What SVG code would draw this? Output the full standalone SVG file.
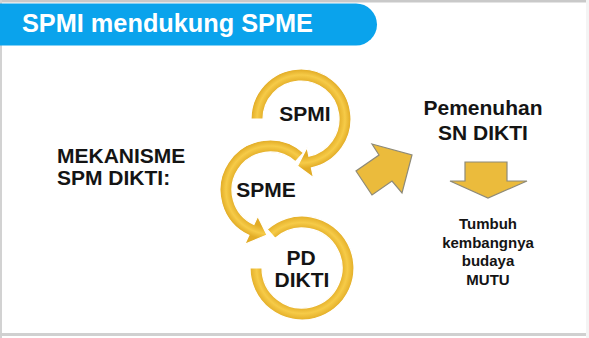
<svg xmlns="http://www.w3.org/2000/svg" width="589" height="338" viewBox="0 0 589 338">
  <style>
    .t { font-family: "Liberation Sans", Arial, sans-serif; font-weight: bold; fill: #141414; }
    .ring { stroke: #ffffff; stroke-width: 1.2; }
    .blk { fill: #EBBB3C; stroke: #8E8A78; stroke-width: 1.2; stroke-linejoin: miter; }
  </style>
  <defs>
    <radialGradient id="gSPMI" gradientUnits="userSpaceOnUse" cx="301" cy="119" r="62">
      <stop offset="0.6" stop-color="#E2AC26"/>
      <stop offset="0.71" stop-color="#F6CB48"/>
      <stop offset="0.8" stop-color="#E2AC26"/>
    </radialGradient>
    <radialGradient id="gSPME" gradientUnits="userSpaceOnUse" cx="270" cy="190" r="62">
      <stop offset="0.6" stop-color="#E2AC26"/>
      <stop offset="0.71" stop-color="#F6CB48"/>
      <stop offset="0.8" stop-color="#E2AC26"/>
    </radialGradient>
    <radialGradient id="gPD" gradientUnits="userSpaceOnUse" cx="302" cy="268" r="64">
      <stop offset="0.61" stop-color="#E2AC26"/>
      <stop offset="0.71" stop-color="#F6CB48"/>
      <stop offset="0.82" stop-color="#E2AC26"/>
    </radialGradient>
  </defs>

  <!-- page frame -->
  <rect x="0" y="0" width="589" height="338" fill="#ffffff"/>
  <rect x="0" y="0" width="589" height="2.5" fill="#C9C9C9"/>
  <rect x="0" y="0" width="2" height="338" fill="#D2D2D2"/>
  <rect x="0" y="333" width="589" height="3" fill="#D0D0D0"/>
  <rect x="586" y="0" width="3" height="338" fill="#F4F4F4"/>

  <!-- header -->
  <g id="header">
    <path d="M0,3.5 H356 A21,21 0 0 1 356,45.5 H0 Z" fill="#0AA3EC"/>
    <text class="t" x="22" y="32" font-size="25.3" style="fill:#ffffff">SPMI mendukung SPME</text>
  </g>

  <g id="mekanisme">
    <text class="t" x="57" y="163" font-size="21">MEKANISME</text>
    <text class="t" x="57" y="185" font-size="21">SPM DIKTI:</text>
  </g>

  <g id="pd-dikti">
    <path class="ring" fill="url(#gPD)" d="M267.21,229.36 A52,52 0 1 1 250,268 L262,268 A40,40 0 1 0 275.24,238.28 Z"/>
    <text class="t" x="301" y="265" font-size="21" text-anchor="middle">PD</text>
    <text class="t" x="302" y="287" font-size="21" text-anchor="middle">DIKTI</text>
  </g>

  <g id="spme">
    <path class="ring" fill="url(#gSPME)" d="M303.46,152.84 A50,50 0 1 0 248.87,235.32 L244.64,244.38 L267,235 L257.74,216.28 L253.94,224.44 A38,38 0 1 1 295.43,161.76 Z"/>
    <text class="t" x="266" y="197" font-size="21" text-anchor="middle">SPME</text>
  </g>

  <g id="spmi">
    <path class="ring" fill="url(#gSPMI)" d="M251,119 A50,50 0 1 1 311.40,167.91 L313.47,177.69 L297.5,166 L307.03,147.37 L308.90,156.17 A38,38 0 1 0 263,119 Z"/>
    <text class="t" x="305" y="121" font-size="21" text-anchor="middle">SPMI</text>
  </g>

  <g id="pemenuhan">
    <text class="t" x="483" y="115" font-size="21" text-anchor="middle">Pemenuhan</text>
    <text class="t" x="483" y="140" font-size="21" text-anchor="middle">SN DIKTI</text>
  </g>

  <g id="budaya-mutu">
    <text class="t" x="488" y="229" font-size="15" text-anchor="middle">Tumbuh</text>
    <text class="t" x="488" y="247.5" font-size="15" text-anchor="middle">kembangnya</text>
    <text class="t" x="488" y="266" font-size="15" text-anchor="middle">budaya</text>
    <text class="t" x="488" y="284.5" font-size="15" text-anchor="middle">MUTU</text>
  </g>

  <g id="connectors">
    <polygon class="blk" points="372,144 412,155 402,193 392,181 372,195 356,171 379,155"/>
    <polygon class="blk" points="465,162 507,162 507,181 527,181 488,198 450,181 465,181"/>
  </g>
</svg>
